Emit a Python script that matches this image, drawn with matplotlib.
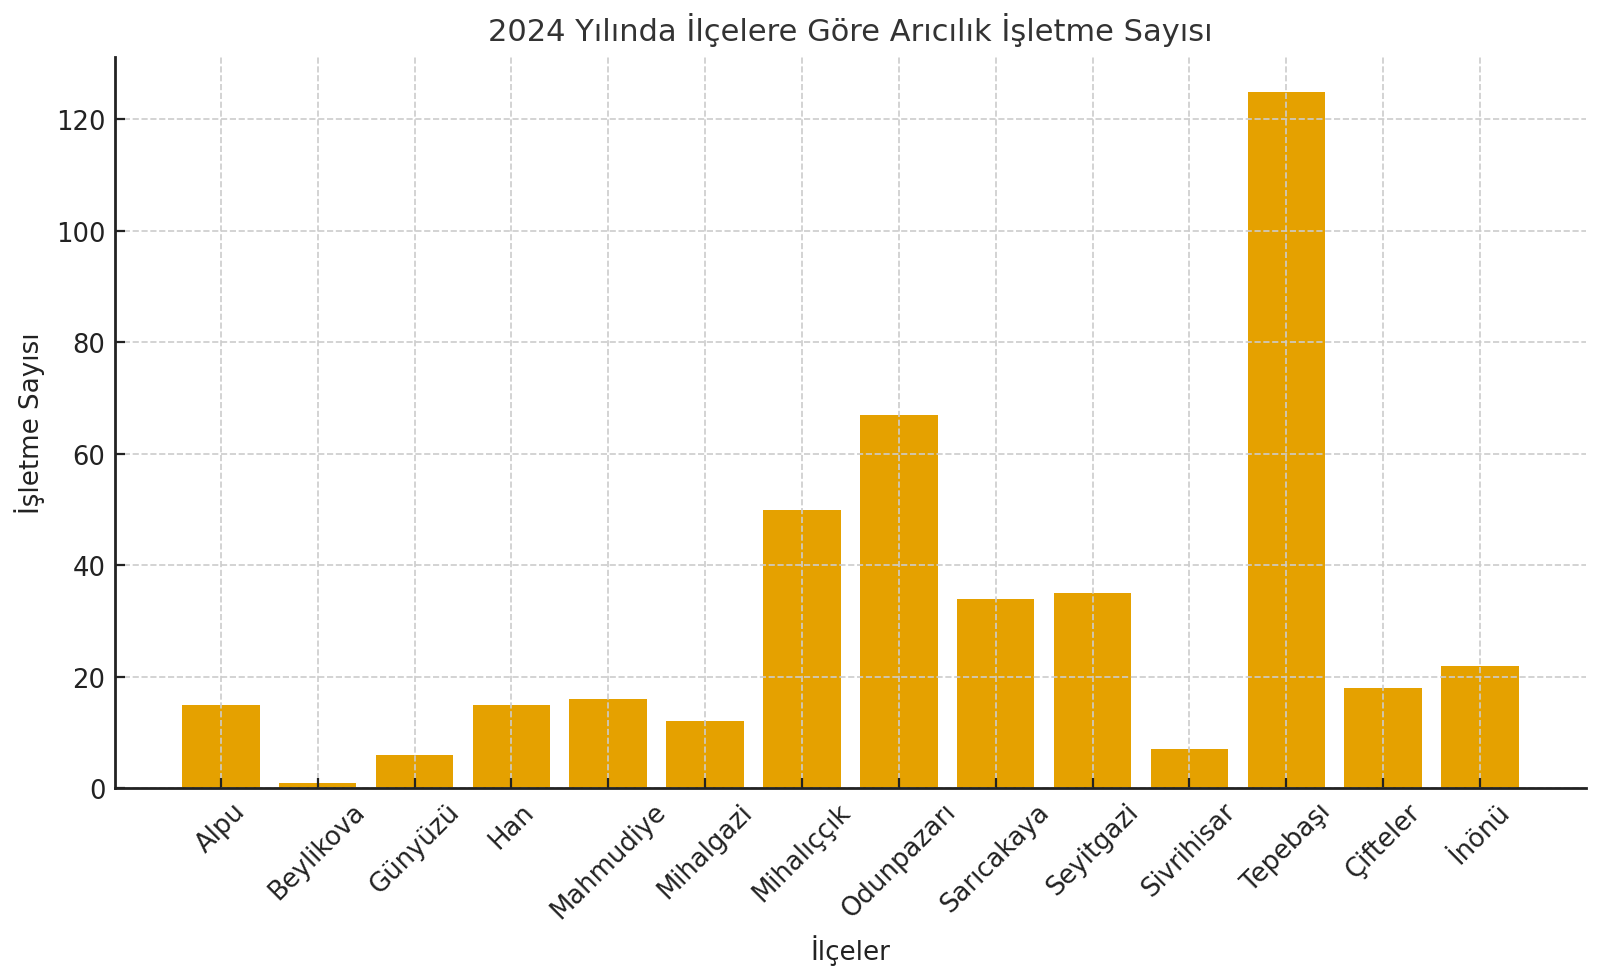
import matplotlib.pyplot as plt

# ilçe bazında arıcılık işletme sayıları (2024)
ilceler = ["Alpu", "Beylikova", "Günyüzü", "Han", "Mahmudiye", "Mihalgazi",
           "Mihalıççık", "Odunpazarı", "Sarıcakaya", "Seyitgazi", "Sivrihisar",
           "Tepebaşı", "Çifteler", "İnönü"]
isletme_sayisi = [15, 1, 6, 15, 16, 12, 50, 67, 34, 35, 7, 125, 18, 22]

BAR_COLOR = "#E5A100"

fig, ax = plt.subplots(figsize=(8, 4.89), dpi=200)
ax.bar(ilceler, isletme_sayisi, color=BAR_COLOR, width=0.8)

ax.set_title("2024 Yılında İlçelere Göre Arıcılık İşletme Sayısı", fontsize=11, color="#333333")
ax.set_xlabel("İlçeler", fontsize=9.4, color="#222222")
ax.set_ylabel("İşletme Sayısı", fontsize=9.4, color="#222222")

ax.tick_params(axis="both", direction="in", labelsize=9.3, colors="#222222")
plt.setp(ax.get_xticklabels(), rotation=45)
ax.grid(True, linestyle="--", color="#cccccc", linewidth=0.6)

ax.spines["top"].set_visible(False)
ax.spines["right"].set_visible(False)
for s in ("left", "bottom"):
    ax.spines[s].set_linewidth(1.0)
    ax.spines[s].set_color("#222222")

fig.subplots_adjust(left=0.072, right=0.991, top=0.941, bottom=0.193)
fig.savefig("out.png", dpi=200)
